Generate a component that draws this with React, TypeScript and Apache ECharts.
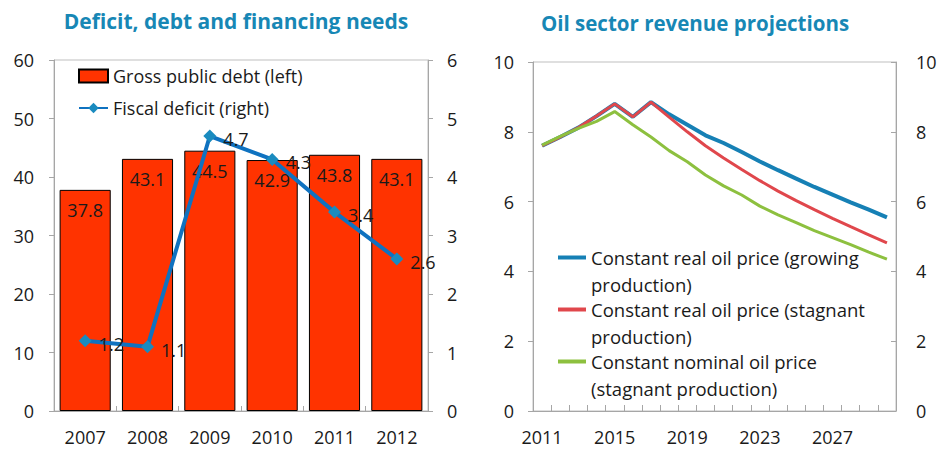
import React, { useEffect, useRef } from "react";
import * as echarts from "echarts";

const debtYears = ["2007", "2008", "2009", "2010", "2011", "2012"];
const grossDebt = [37.8, 43.1, 44.5, 42.9, 43.8, 43.1];
const fiscalDeficit = [1.2, 1.1, 4.7, 4.3, 3.4, 2.6];

const oilYears = [
  "2011", "2012", "2013", "2014", "2015", "2016", "2017", "2018", "2019", "2020",
  "2021", "2022", "2023", "2024", "2025", "2026", "2027", "2028", "2029", "2030",
];
const realGrowing = [7.6, 7.85, 8.12, 8.45, 8.8, 8.43, 8.85, 8.5, 8.2, 7.9, 7.68, 7.42, 7.15, 6.9, 6.66, 6.42, 6.2, 5.98, 5.77, 5.55];
const realStagnant = [7.6, 7.85, 8.12, 8.45, 8.8, 8.43, 8.85, 8.42, 8.0, 7.6, 7.25, 6.92, 6.6, 6.3, 6.03, 5.77, 5.52, 5.28, 5.05, 4.82];
const nominalStagnant = [7.62, 7.87, 8.1, 8.3, 8.58, 8.2, 7.85, 7.46, 7.14, 6.76, 6.45, 6.19, 5.87, 5.62, 5.4, 5.17, 4.97, 4.77, 4.55, 4.35];

const leftTicks = [0, 60, 10];
const rightTicks = [0, 6, 1];
const oilTicks = [0, 10, 2];

const FONT = "Open Sans";
const TXT = "#1a1a1a";
const AXIS = "#A6A6A6";
const BORDER = "#BFBFBF";
const TITLE = "#1787B5";
const LINE_ICON = "path://M0,0 L28,0 L28,4 L0,4 Z";

export default function App() {
  const ref = useRef<HTMLDivElement>(null);
  useEffect(() => {
    document.body.style.margin = "0";
    if (!ref.current) return;
    const chart = echarts.init(ref.current, undefined, { renderer: "svg" });
    const axisLabel = { color: TXT, fontSize: 18, fontFamily: FONT };
    const yBase = (grid: number, range: number[], pos: string, inside: boolean, margin: number) => ({
      type: "value",
      gridIndex: grid,
      position: pos,
      min: range[0],
      max: range[1],
      interval: range[2],
      axisLine: { show: true, lineStyle: { color: AXIS } },
      axisTick: { show: true, inside, length: 5, lineStyle: { color: AXIS } },
      splitLine: { show: false },
      axisLabel: { ...axisLabel, margin },
    });
    chart.setOption({
      animation: false,
      textStyle: { fontFamily: FONT },
      title: [
        {
          text: "Deficit, debt and financing needs",
          left: 236,
          top: 10,
          padding: 0,
          textAlign: "center",
          textStyle: { color: TITLE, fontSize: 21, fontWeight: "bold", fontFamily: FONT },
        },
        {
          text: "Oil sector revenue projections",
          left: 695,
          top: 12,
          padding: 0,
          textAlign: "center",
          textStyle: { color: TITLE, fontSize: 20.5, fontWeight: "bold", fontFamily: FONT },
        },
      ],
      legend: [
        {
          orient: "vertical",
          left: 78,
          top: 66,
          padding: 0,
          itemGap: 12,
          itemWidth: 29,
          itemHeight: 13,
          textStyle: { color: TXT, fontSize: 18, lineHeight: 20, fontFamily: FONT },
          data: [
            { name: "Gross public debt (left)", icon: "rect" },
            { name: "Fiscal deficit (right)" },
          ],
        },
        {
          orient: "vertical",
          left: 558,
          top: 217,
          padding: 0,
          itemGap: -29,
          itemWidth: 28,
          itemHeight: 14,
          formatter: (name: string) => "\n" + name,
          textStyle: { color: TXT, fontSize: 18.5, lineHeight: 27, fontFamily: FONT },
          data: [
            { name: "Constant real oil price (growing\nproduction)", icon: LINE_ICON },
            { name: "Constant real oil price (stagnant\nproduction)", icon: LINE_ICON },
            { name: "Constant nominal oil price\n(stagnant production)", icon: LINE_ICON },
          ],
        },
      ],
      grid: [
        { left: 54, right: 512, top: 60, bottom: 38, show: true, borderColor: BORDER, borderWidth: 1 },
        { left: 533, right: 44, top: 62, bottom: 38, show: true, borderColor: BORDER, borderWidth: 1 },
      ],
      xAxis: [
        {
          type: "category",
          gridIndex: 0,
          data: debtYears,
          axisLine: { lineStyle: { color: AXIS } },
          axisTick: { show: true, inside: true, length: 5, lineStyle: { color: AXIS } },
          axisLabel: { ...axisLabel, margin: 17 },
        },
        {
          type: "category",
          gridIndex: 1,
          data: oilYears,
          axisLine: { lineStyle: { color: AXIS } },
          axisTick: { show: true, inside: true, length: 6, interval: 0, lineStyle: { color: AXIS } },
          axisLabel: { ...axisLabel, margin: 17, interval: 3 },
        },
      ],
      yAxis: [
        yBase(0, leftTicks, "left", false, 20),
        yBase(0, rightTicks, "right", false, 19),
        yBase(1, oilTicks, "left", false, 19),
        yBase(1, oilTicks, "right", true, 20),
      ],
      series: [
        {
          name: "Gross public debt (left)",
          type: "bar",
          xAxisIndex: 0,
          yAxisIndex: 0,
          data: grossDebt,
          barCategoryGap: "18%",
          itemStyle: { color: "#FF3300", borderColor: "#000", borderWidth: 1 },
          label: {
            show: true,
            position: "insideTop",
            distance: 11,
            color: TXT,
            fontSize: 18,
            fontFamily: FONT,
          },
        },
        {
          name: "Fiscal deficit (right)",
          type: "line",
          xAxisIndex: 0,
          yAxisIndex: 1,
          data: fiscalDeficit,
          symbol: "diamond",
          symbolSize: 13,
          lineStyle: { color: "#0F72C0", width: 4 },
          itemStyle: { color: "#1A8BBF" },
          label: {
            show: true,
            position: "right",
            distance: 7,
            offset: [0, 3],
            color: TXT,
            fontSize: 18,
            fontFamily: FONT,
          },
          z: 5,
        },
        {
          name: "Constant real oil price (growing\nproduction)",
          type: "line",
          xAxisIndex: 1,
          yAxisIndex: 2,
          data: realGrowing,
          symbol: "none",
          lineStyle: { color: "#1680B5", width: 4 },
          itemStyle: { color: "#1680B5" },
        },
        {
          name: "Constant real oil price (stagnant\nproduction)",
          type: "line",
          xAxisIndex: 1,
          yAxisIndex: 2,
          data: realStagnant,
          symbol: "none",
          lineStyle: { color: "#E0474C", width: 3 },
          itemStyle: { color: "#E0474C" },
        },
        {
          name: "Constant nominal oil price\n(stagnant production)",
          type: "line",
          xAxisIndex: 1,
          yAxisIndex: 2,
          data: nominalStagnant,
          symbol: "none",
          lineStyle: { color: "#8DC03F", width: 3 },
          itemStyle: { color: "#8DC03F" },
        },
      ],
    });
    return () => chart.dispose();
  }, []);
  return <div ref={ref} style={{ width: 940, height: 449 }} />;
}
